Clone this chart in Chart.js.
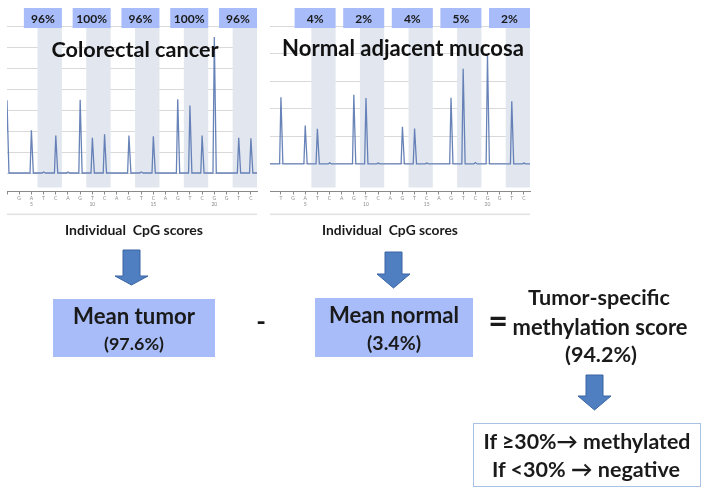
<!DOCTYPE html>
<html>
<head>
<meta charset="utf-8">
<script src="https://cdn.jsdelivr.net/npm/chart.js@4.4.1/dist/chart.umd.min.js"></script>
<style>
  html, body { margin: 0; padding: 0; background: #fff; }
  #wrap { position: relative; width: 709px; height: 495px; overflow: hidden; font-family: Lato, "Noto Sans", sans-serif; color: #1a1a1a; }
  canvas { position: absolute; }
  .t { position: absolute; white-space: pre; line-height: 1; transform: translate(-50%, -50%); font-weight: 700; }
  .box { position: absolute; background: #a7bcf8; }
  #cmp { position: absolute; left: 473px; top: 423px; width: 226px; height: 62px; border: 1.5px solid #a9c1e2; background: #fff; }
</style>
</head>
<body>
<div id="wrap">
  <canvas id="c1" width="265" height="240" style="left:0;top:0;width:265px;height:240px"></canvas>
  <canvas id="c2" width="275" height="240" style="left:262px;top:0;width:275px;height:240px"></canvas>

  <div class="t" data-w="138" style="left:134px;top:230px;font-size:12px">Individual  CpG scores</div>
  <div class="t" data-w="136" style="left:390px;top:230px;font-size:12px">Individual  CpG scores</div>

  <svg style="position:absolute;left:0;top:0" width="709" height="495">
    <g fill="#4f7fc0" stroke="#3a64a2" stroke-width="1">
      <polygon points="123,250 140,250 140,276 148,276 131.5,285 115,276 123,276"/>
      <polygon points="385,252 402,252 402,274 410,274 393.5,288 377,274 385,274"/>
      <polygon points="586,375 603,375 603,396 611,396 594.5,410 578,396 586,396"/>
    </g>
  </svg>

  <div class="box" style="left:53px;top:299px;width:162px;height:58px"></div>
  <div class="t" id="mt1" data-w="122" style="left:134px;top:316px;font-size:20px">Mean tumor</div>
  <div class="t" id="mt2" data-w="60" style="left:134px;top:344px;font-size:20px"></div>

  <div class="t" style="left:261px;top:321px;font-size:26px">-</div>

  <div class="box" style="left:315px;top:298px;width:158px;height:59px"></div>
  <div class="t" id="mn1" data-w="130" style="left:394px;top:315px;font-size:20px">Mean normal</div>
  <div class="t" id="mn2" data-w="54" style="left:394px;top:343px;font-size:20px"></div>

  <div class="t" style="left:498px;top:320px;font-size:34px">=</div>
  <div class="t" data-w="142" style="left:599px;top:298px;font-size:20px">Tumor-specific</div>
  <div class="t" data-w="175" style="left:600px;top:327px;font-size:20px">methylation score</div>
  <div class="t" id="ts" data-w="72" style="left:601px;top:355px;font-size:20px"></div>

  <div id="cmp"></div>
  <div class="t" data-w="207" style="left:587px;top:442px;font-size:20px">If ≥30%→ methylated</div>
  <div class="t" data-w="188" style="left:586px;top:470px;font-size:20px">If &lt;30% → negative</div>
</div>

<script>
// ---------------- data ----------------
const dispLeft  = ['', 'G','A','T','C','A','G','T','C','A','G','T','C','A','G','T','C','G','G','T','C'];
const dispRight = ['T','G','A','T','C','A','G','T','C','A','G','T','C','A','G','T','C','G','G','T','C'];
const positionNumbers = ['', '', '5', '', '', '', '', '10', '', '', '', '', '15', '', '', '', '', '20', '', '', ''];
const tumorSignal  = [3.46, 0, 2.03, 0.05, 1.79, 0.05, 3.49, 1.68, 1.84, 0, 1.79, 0.05, 1.75, 0, 3.51, 3.21, 1.79, 6.48, 0, 1.68, 1.65];
const normalSignal = [2.42, 0, 1.39, 1.27, 0.04, 0, 2.51, 2.39, 0.03, 0, 1.35, 1.28, 0.03, 0, 2.40, 3.45, 0.05, 3.95, 0, 2.27, 0.03];
const cpgSites = [3, 7, 11, 15, 19];   // T/C dispensation pairs start
const tumorScores  = [96, 100, 96, 100, 96];
const normalScores = [4, 2, 4, 5, 2];
const titles = ['Colorectal cancer', 'Normal adjacent mucosa'];

// ---------------- derived ----------------
const mean = a => a.reduce((s, v) => s + v, 0) / a.length;
const meanTumor = mean(tumorScores);
const meanNormal = mean(normalScores);
const specific = meanTumor - meanNormal;
document.getElementById('mt2').textContent = '(' + meanTumor.toFixed(1) + '%)';
document.getElementById('mn2').textContent = '(' + meanNormal.toFixed(1) + '%)';
document.getElementById('ts').textContent = '(' + specific.toFixed(1) + '%)';

function traceFrom(sig, xmin, xmax) {
  const pts = [{x: xmin, y: 0}];
  sig.forEach((h, i) => {
    if (h > 0) {
      pts.push({x: i - 0.11, y: 0});
      pts.push({x: i, y: h});
      pts.push({x: i + 0.16, y: 0});
    }
  });
  pts.push({x: xmax, y: 0});
  return pts;
}

const FONT = 'Lato, "Noto Sans", sans-serif';

function overlayPlugin(title, scores, boxW, titleW, titleBase) {
  return {
    id: 'overlay',
    beforeDatasetsDraw(chart) {
      const {ctx, chartArea: a, scales: {x}} = chart;
      ctx.save();
      ctx.fillStyle = '#e2e7ef';
      cpgSites.forEach(s => {
        const l = x.getPixelForValue(s - 0.5), r = x.getPixelForValue(s + 1.5);
        ctx.fillRect(l, a.top + 2, r - l, a.bottom - a.top - 6);
      });
      ctx.restore();
    },
    afterDatasetsDraw(chart) {
      const {ctx, chartArea: a, scales: {x}} = chart;
      ctx.save();
      cpgSites.forEach((s, k) => {
        const r = x.getPixelForValue(s + 1.5);
        ctx.fillStyle = '#a7bcf8';
        ctx.fillRect(r - boxW, 8, boxW, 20);
        ctx.fillStyle = '#1a1a1a';
        ctx.font = '700 12px ' + FONT;
        ctx.textAlign = 'center';
        ctx.textBaseline = 'alphabetic';
        ctx.fillText(scores[k] + '%', r - boxW / 2, 22.5);
      });
      let fs = 20;
      ctx.font = '700 ' + fs + 'px ' + FONT;
      fs = fs * titleW / ctx.measureText(title).width;
      ctx.font = '700 ' + fs + 'px ' + FONT;
      ctx.fillStyle = '#111';
      ctx.textAlign = 'center';
      ctx.fillText(title, (a.left + a.right) / 2 + 3, titleBase);
      ctx.fillStyle = '#e3e3e3';
      ctx.fillRect(a.left, 213.5, a.right - a.left, 1.6);
      ctx.restore();
    }
  };
}

function makeChart(id, labels, sig, scores, xmin, ymin, ymax, padL, padR, boxW, title, titleW, titleBase) {
  const xmax = 20.5;
  return new Chart(document.getElementById(id), {
    type: 'line',
    data: { datasets: [{
      data: traceFrom(sig, xmin, xmax),
      borderColor: 'rgba(88,118,176,0.9)',
      borderWidth: 1.3,
      pointRadius: 0,
      tension: 0,
      fill: false
    }]},
    options: {
      responsive: false,
      animation: false,
      events: [],
      layout: { padding: { left: padL, right: padR, top: 26, bottom: 24.5 } },
      plugins: { legend: { display: false }, tooltip: { enabled: false } },
      scales: {
        x: {
          type: 'linear', min: xmin, max: xmax,
          afterFit(s) { s.height = 24; },
          border: { display: true, color: '#8a8a8a', width: 1 },
          grid: { display: true, drawOnChartArea: false, drawTicks: true, tickLength: 3, color: '#8a8a8a' },
          ticks: {
            stepSize: 1, autoSkip: false, maxRotation: 0, includeBounds: false,
            padding: 1,
            font: { size: 5, family: FONT }, color: '#8a8a8a',
            lineHeight: 2.2,
            callback(v) {
              if (!Number.isInteger(v) || v < 0 || v > 20) return '';
              return [labels[v], positionNumbers[v]];
            }
          }
        },
        y: {
          min: ymin, max: ymax,
          afterFit(s) { s.width = 0; },
          border: { display: false },
          ticks: { display: false, stepSize: 1, includeBounds: false },
          grid: {
            drawTicks: false,
            color: c => (Number.isInteger(c.tick.value) && c.tick.value >= 0) ? '#d9d9d9' : 'rgba(0,0,0,0)',
            lineWidth: 1
          }
        }
      }
    },
    plugins: [overlayPlugin(title, scores, boxW, titleW, titleBase)]
  });
}

makeChart('c1', dispLeft, tumorSignal, tumorScores, 0, -0.88, 7, 7, 8, 38, titles[0], 167, 57);
makeChart('c2', dispRight, normalSignal, normalScores, -0.9, -1, 5, 8, 7, 41, titles[1], 242, 56);

document.querySelectorAll('[data-w]').forEach(el => {
  const target = +el.dataset.w;
  const fs = parseFloat(getComputedStyle(el).fontSize);
  const w = el.getBoundingClientRect().width;
  if (w > 0) el.style.fontSize = (fs * target / w).toFixed(2) + 'px';
});
</script>
</body>
</html>
